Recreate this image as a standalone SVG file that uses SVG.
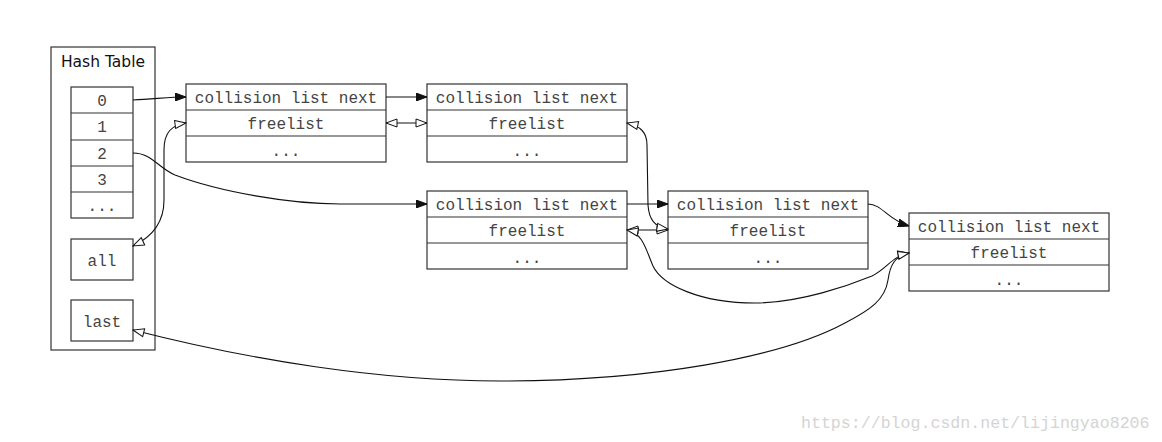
<svg xmlns="http://www.w3.org/2000/svg" width="1162" height="442" viewBox="0 0 1162 442">
<style>
.box{fill:#fff;stroke:#333;stroke-width:1.2}
.sep{stroke:#333;stroke-width:1.2}
.mono{font-family:"Liberation Mono","DejaVu Sans Mono",monospace;font-size:16px;fill:#444;text-anchor:middle}
.sans{font-family:"DejaVu Sans","Liberation Sans",sans-serif;font-size:15.5px;fill:#111;text-anchor:middle}
.e{fill:none;stroke:#111;stroke-width:1.1}
.f{marker-end:url(#filled)}
.b{marker-start:url(#open);marker-end:url(#open)}
.wm{font-family:"Liberation Mono",monospace;font-size:16.6px;fill:#d4d4d4}
</style>
<defs>
<marker id="filled" markerUnits="userSpaceOnUse" viewBox="0 0 11 8" markerWidth="11" markerHeight="8" refX="11" refY="4" orient="auto">
<path d="M0,0 L11,4 L0,8 z" fill="#111" stroke="#111" stroke-width="1"/>
</marker>
<marker id="open" markerUnits="userSpaceOnUse" viewBox="-1 -1 13 10" markerWidth="13" markerHeight="10" refX="11" refY="4" orient="auto-start-reverse">
<path d="M0,0 L11,4 L0,8 z" fill="#fff" stroke="#111" stroke-width="1"/>
</marker>
</defs>
<rect width="1162" height="442" fill="#fff"/>

<g id="hashtable">
<rect class="box" x="51" y="47" width="104" height="303"/>
<text class="sans" x="103" y="67">Hash Table</text>
</g>
<g id="cells">
<rect class="box" x="71" y="87" width="62" height="131"/>
<line class="sep" x1="71" y1="113" x2="133" y2="113"/>
<line class="sep" x1="71" y1="140" x2="133" y2="140"/>
<line class="sep" x1="71" y1="166" x2="133" y2="166"/>
<line class="sep" x1="71" y1="192" x2="133" y2="192"/>
<text class="mono" x="102" y="106">0</text>
<text class="mono" x="102" y="132">1</text>
<text class="mono" x="102" y="159">2</text>
<text class="mono" x="102" y="185">3</text>
<text class="mono" x="102" y="211">...</text>
</g>
<g id="all">
<rect class="box" x="71" y="239" width="62" height="41"/>
<text class="mono" x="102" y="266">all</text>
</g>
<g id="last">
<rect class="box" x="71" y="300" width="62" height="41"/>
<text class="mono" x="102" y="327">last</text>
</g>

<g id="nodeA">
<rect class="box" x="186" y="84" width="200" height="78"/>
<line class="sep" x1="186" y1="110" x2="386" y2="110"/>
<line class="sep" x1="186" y1="136" x2="386" y2="136"/>
<text class="mono" x="286" y="103">collision list next</text>
<text class="mono" x="286" y="129">freelist</text>
<text class="mono" x="286" y="156">...</text>
</g>
<g id="nodeB">
<rect class="box" x="427" y="84" width="200" height="78"/>
<line class="sep" x1="427" y1="110" x2="627" y2="110"/>
<line class="sep" x1="427" y1="136" x2="627" y2="136"/>
<text class="mono" x="527" y="103">collision list next</text>
<text class="mono" x="527" y="129">freelist</text>
<text class="mono" x="527" y="156">...</text>
</g>
<g id="nodeC">
<rect class="box" x="427" y="191" width="200" height="78"/>
<line class="sep" x1="427" y1="217" x2="627" y2="217"/>
<line class="sep" x1="427" y1="243" x2="627" y2="243"/>
<text class="mono" x="527" y="210">collision list next</text>
<text class="mono" x="527" y="236">freelist</text>
<text class="mono" x="527" y="263">...</text>
</g>
<g id="nodeD">
<rect class="box" x="668" y="191" width="200" height="78"/>
<line class="sep" x1="668" y1="217" x2="868" y2="217"/>
<line class="sep" x1="668" y1="243" x2="868" y2="243"/>
<text class="mono" x="768" y="210">collision list next</text>
<text class="mono" x="768" y="236">freelist</text>
<text class="mono" x="768" y="263">...</text>
</g>
<g id="nodeE">
<rect class="box" x="909" y="213" width="200" height="78"/>
<line class="sep" x1="909" y1="239" x2="1109" y2="239"/>
<line class="sep" x1="909" y1="265" x2="1109" y2="265"/>
<text class="mono" x="1009" y="232">collision list next</text>
<text class="mono" x="1009" y="258">freelist</text>
<text class="mono" x="1009" y="285">...</text>
</g>

<g id="connectors">
<path class="e f" d="M133,100 C155,99 170,97 186,97"/>
<path class="e f" d="M386,97 L427,97"/>
<path class="e b" d="M386,123 L427,123"/>
<path class="e b" d="M186,123 C172,125 164,132 164,150 L164,200 C164,225 150,238 133,246"/>
<path class="e f" d="M133,153 C152,153 158,168 175,175 C220,192 290,204 340,204 L427,204"/>
<path class="e f" d="M627,204 L668,204"/>
<path class="e b" d="M627,230 L668,230"/>
<path class="e b" d="M627,123 C640,126 647,132 647,145 L648,205 C649,220 655,227 668,229"/>
<path class="e f" d="M868,204 C882,204 888,220 909,226"/>
<path class="e b" d="M627,230 C643,233 646,250 653,266 C662,285 700,303 755,303 C800,303 850,285 872,276 C888,268 892,256 909,253"/>
<path class="e b" d="M909,253 C895,256 890,265 888,280 C885,300 870,310 845,323 C780,358 650,381 500,381 C380,381 250,360 133,330"/>
</g>

<text class="wm" x="801" y="428">https://blog.csdn.net/lijingyao8206</text>
</svg>
